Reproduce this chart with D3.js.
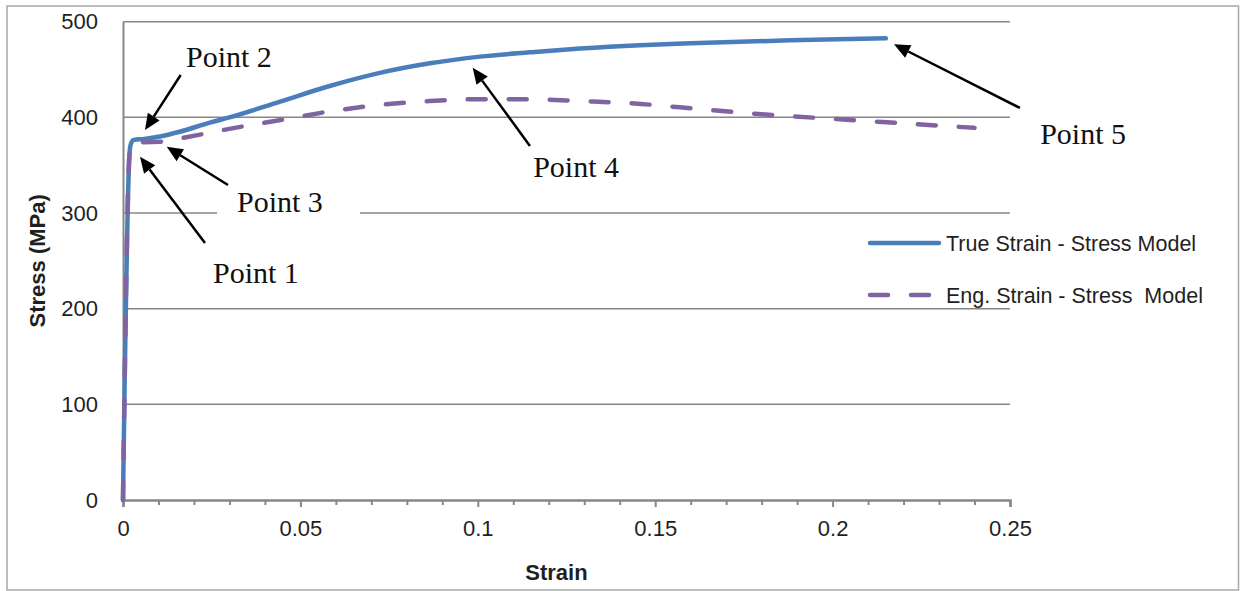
<!DOCTYPE html>
<html><head><meta charset="utf-8">
<script src="https://cdn.jsdelivr.net/npm/d3@7/dist/d3.min.js"></script>
<style>body{margin:0;background:#fff}svg{display:block}</style>
</head><body><svg id="c" width="1240" height="591"></svg>
<script>
// ---- data ----
const trueStrain = [0, 0.0018, 0.0022, 0.003, 0.006, 0.0104, 0.016, 0.0245, 0.030, 0.0443, 0.058, 0.0724, 0.0865, 0.1006, 0.1147, 0.1288, 0.1457, 0.16, 0.188, 0.215];
const trueStress = [0, 360, 372, 376.5, 377.5, 380, 385, 394.5, 400, 416.5, 432.5, 446.5, 456.5, 463.5, 468, 472, 475.5, 477.5, 480.5, 482.6];
const engStrain = [0, 0.0018, 0.0022, 0.003, 0.006, 0.0104, 0.016, 0.0245, 0.030, 0.044, 0.058, 0.0724, 0.0865, 0.1006, 0.1147, 0.129, 0.146, 0.157, 0.179, 0.202, 0.24];
const engStress = [0, 360, 371, 374.5, 374, 374.5, 378, 384, 388, 397, 406, 413, 417, 419, 419, 417, 414, 410.5, 403.5, 398, 389];
const xTicks = [0, 0.05, 0.1, 0.15, 0.2, 0.25];
const xTickLabels = ["0", "0.05", "0.1", "0.15", "0.2", "0.25"];
const xMinorTicks = [0.01,0.02,0.03,0.04,0.06,0.07,0.08,0.09,0.11,0.12,0.13,0.14,0.16,0.17,0.18,0.19,0.21,0.22,0.23,0.24];
const yTicks = [0, 100, 200, 300, 400, 500];
const seriesNames = ["True Strain - Stress Model", "Eng. Strain - Stress  Model"];
const pointLabels = ["Point 1", "Point 2", "Point 3", "Point 4", "Point 5"];
// annotation positions in data space
const pointLabelPos = [[0.02537, 226.8], [0.01776, 452.6], [0.03213, 301.1], [0.1156, 337.7], [0.2585, 372.2]];
const arrowTail = [[0.02311, 268.7], [0.01626, 444.3], [0.02959, 329.3], [0.1147, 370.1], [0.2528, 409.8]];
const arrowTip = [[0.00479, 358.9], [0.0062, 386.8], [0.01232, 369.3], [0.09856, 451.9], [0.2173, 476.4]];

// ---- layout ----
const svg = d3.select("#c");
const x = d3.scaleLinear().domain([0, 0.25]).range([123, 1010]);
const y = d3.scaleLinear().domain([0, 500]).range([500, 21.7]);
const blue = "#4a7ebb", purple = "#8064a2", grid = "#878787";
const sans = "'Liberation Sans', Arial, sans-serif";
const serif = "'Liberation Serif', 'Times New Roman', serif";

// outer frame
svg.append("rect").attr("x", 7).attr("y", 6).attr("width", 1231.5).attr("height", 584)
  .attr("fill", "none").attr("stroke", "#a8a8a8").attr("stroke-width", 1.5);

// gridlines
svg.append("g").selectAll("line").data(yTicks.filter(d => d > 0)).join("line")
  .attr("x1", x(0)).attr("x2", x(0.25)).attr("y1", d => y(d)).attr("y2", d => y(d))
  .attr("stroke", grid).attr("stroke-width", 1.5);

// white box behind Point 3
svg.append("rect").attr("x", x(0.0265)).attr("y", y(307)).attr("width", x(0.0668) - x(0.0265))
  .attr("height", y(292) - y(307)).attr("fill", "#fff");

// axes
const xAxis = svg.append("g").attr("transform", `translate(0,${y(0)})`)
  .call(d3.axisBottom(x).tickValues(xTicks).tickSize(7).tickFormat((d, i) => xTickLabels[i]));
xAxis.select(".domain").attr("stroke", grid).attr("stroke-width", 2.5);
xAxis.selectAll(".tick line").attr("stroke", grid).attr("stroke-width", 2);
xAxis.selectAll(".tick text").attr("font-family", sans).attr("font-size", 22).attr("fill", "#1f1f1f").attr("dy", "1.05em").attr("y", 13);
const xMinor = svg.append("g").attr("transform", `translate(0,${y(0)})`)
  .call(d3.axisBottom(x).tickValues(xMinorTicks).tickSize(5).tickFormat(""));
xMinor.select(".domain").remove();
xMinor.selectAll(".tick line").attr("stroke", grid).attr("stroke-width", 2);

const yAxis = svg.append("g").attr("transform", `translate(${x(0)},0)`)
  .call(d3.axisLeft(y).tickValues(yTicks).tickSize(0).tickPadding(25).tickFormat(d3.format("d")));
yAxis.select(".domain").attr("stroke", grid).attr("stroke-width", 2);
yAxis.selectAll(".tick text").attr("font-family", sans).attr("font-size", 22).attr("fill", "#1f1f1f");

// axis titles
svg.append("text").attr("x", x(0.125) - 10).attr("y", 580).attr("text-anchor", "middle")
  .attr("font-family", sans).attr("font-weight", "bold").attr("font-size", 22).attr("fill", "#1f1f1f").text("Strain");
svg.append("text").attr("transform", `translate(45,${y(250)}) rotate(-90)`).attr("text-anchor", "middle")
  .attr("font-family", sans).attr("font-weight", "bold").attr("font-size", 22).attr("fill", "#1f1f1f").text("Stress (MPa)");

// series
const line = d3.line().x(d => x(d[0])).y(d => y(d[1])).curve(d3.curveMonotoneX);
const trueData = trueStrain.map((s, i) => [s, trueStress[i]]);
const engData = engStrain.map((s, i) => [s, engStress[i]]);
svg.append("path").attr("d", line(trueData)).attr("fill", "none").attr("stroke", blue)
  .attr("stroke-width", 4.5).attr("stroke-linejoin", "round").attr("stroke-linecap", "round");
svg.append("path").attr("d", line(engData)).attr("fill", "none").attr("stroke", purple)
  .attr("stroke-width", 4.5).attr("stroke-dasharray", "18,23").attr("stroke-linecap", "round");

// legend
const lg = svg.append("g");
lg.append("line").attr("x1", 870).attr("x2", 939).attr("y1", 243).attr("y2", 243)
  .attr("stroke", blue).attr("stroke-width", 4.5).attr("stroke-linecap", "round");
lg.append("line").attr("x1", 870).attr("x2", 932).attr("y1", 295).attr("y2", 295)
  .attr("stroke", purple).attr("stroke-width", 4.5).attr("stroke-dasharray", "18,23").attr("stroke-linecap", "round");
lg.selectAll("text").data(seriesNames).join("text")
  .attr("x", 946).attr("y", (d, i) => 243 + i * 52).attr("dy", "0.35em")
  .attr("font-family", sans).attr("font-size", 21.5).attr("fill", "#1f1f1f")
  .style("white-space", "pre").text(d => d);

// annotation arrows
const ag = svg.append("g");
pointLabels.forEach((lab, i) => {
  const x1 = x(arrowTail[i][0]), y1 = y(arrowTail[i][1]);
  const x2 = x(arrowTip[i][0]), y2 = y(arrowTip[i][1]);
  const ang = Math.atan2(y2 - y1, x2 - x1), L = 16, W = 7;
  const bx = x2 - L * Math.cos(ang), by = y2 - L * Math.sin(ang);
  ag.append("line").attr("x1", x1).attr("y1", y1).attr("x2", bx).attr("y2", by)
    .attr("stroke", "#000").attr("stroke-width", 2.5);
  ag.append("polygon").attr("points", [
    [x2, y2],
    [bx + W * Math.sin(ang), by - W * Math.cos(ang)],
    [bx - W * Math.sin(ang), by + W * Math.cos(ang)]
  ].map(p => p.join(",")).join(" ")).attr("fill", "#000");
  ag.append("text").attr("x", x(pointLabelPos[i][0])).attr("y", y(pointLabelPos[i][1]))
    .attr("font-family", serif).attr("font-size", 30).attr("fill", "#111").text(lab);
});
</script></body></html>
